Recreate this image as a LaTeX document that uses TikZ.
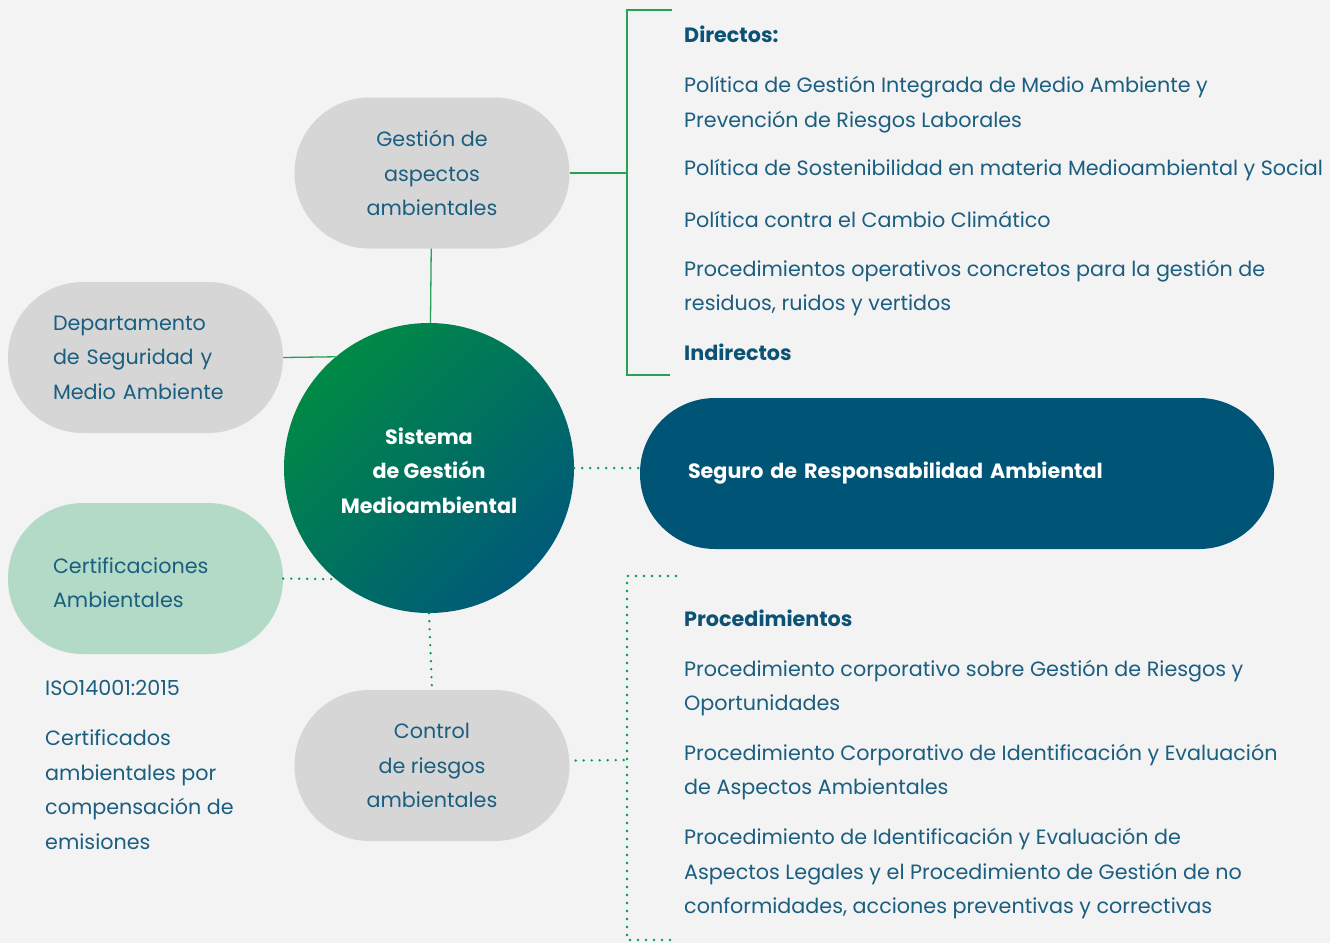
\documentclass[tikz,border=0pt]{standalone}
\usepackage{fontspec}
\setmainfont{Poppins}
\usepackage{xcolor}
\definecolor{bgGrey}{HTML}{F3F3F3}
\definecolor{pillGrey}{HTML}{D6D6D6}
\definecolor{pillMint}{HTML}{B3DAC7}
\definecolor{pillBlue}{HTML}{005577}
\definecolor{textBlue}{HTML}{1A5E80}
\definecolor{headBlue}{HTML}{0B5275}
\definecolor{lineGreen}{HTML}{27A058}
\definecolor{dotGreen}{HTML}{009A48}
\definecolor{circGreen}{HTML}{008A45}
\definecolor{circBlue}{HTML}{005A78}

\begin{document}
\begin{tikzpicture}[x=1pt, y=-1pt, node font=\fontsize{20.7}{34.5}\selectfont,
  pill/.style={rectangle, rounded corners=75pt, minimum width=275pt, minimum height=151pt, inner sep=0, fill=pillGrey, text=textBlue, align=center},
  info/.style={anchor=west, inner sep=0, align=left, text=textBlue},
  head/.style={info, text=headBlue, font=\bfseries},
  solid line/.style={draw=lineGreen, line width=1.3pt},
  dot line/.style={draw=dotGreen, line width=2.6pt, dash pattern=on 0pt off 8pt, line cap=round}]

\fill[bgGrey] (0,0) rectangle (1330,943);

\node[circle, minimum size=290pt, inner sep=0, top color=circGreen, bottom color=circBlue, shading angle=45, text=white, font=\bfseries, align=center] (circleSistema) at (429,468) {\rule{0pt}{22pt}Sistema\\de Gestión\\Medioambiental};

\node[pill] (pillGestion) at (432,173) {Gestión de\\aspectos\\ambientales};
\node[pill, text width=185pt, align=left] (pillDept) at (145.5,357.5) {Departamento\\de Seguridad y\\Medio Ambiente};
\node[pill, fill=pillMint, text width=185pt, align=left] (pillCert) at (145.5,578.5) {\rule{0pt}{24pt}Certificaciones\\Ambientales};
\node[pill] (pillControl) at (432,765.5) {Control\\de riesgos\\ambientales};
\node[pill, minimum width=634pt, fill=pillBlue, text=white, font=\bfseries, text width=538pt, align=left] (pillSeguro) at (957,473.5) {Seguro de Responsabilidad Ambiental};

\coordinate (topStart) at (672,10);
\coordinate (topCorner) at (627,10);
\coordinate (topBottom) at (627,375);
\coordinate (topEnd) at (670,375);
\coordinate (lowStart) at (676,576);
\coordinate (lowCorner) at (627,576);
\coordinate (lowBottom) at (627,940);
\coordinate (lowEnd) at (676,940);

\draw [solid line] (pillGestion) edge (circleSistema);
\draw [solid line] (pillDept.east) -- (circleSistema.130);
\draw [solid line] (pillGestion.east) -- (pillGestion.east -| topCorner);
\draw [solid line] (topStart) -- (topCorner) -- (topBottom) -- (topEnd);

\draw [dot line] (pillCert.east) -- (circleSistema.230);
\draw [dot line] (circleSistema.south) -- (pillControl.north);
\draw [dot line] (circleSistema.east) -- (circleSistema.east -| pillSeguro.west);
\draw [dot line] (pillControl.east) ++(6,-5) -- (lowCorner |- 0,760);
\draw [dot line] (lowStart) -- (lowCorner) -- (lowBottom) -- (lowEnd);

\node[head] (hDirectos) at (684,34) {Directos:};
\node[info] (tPolGestion) at (684,104.5) {Política de Gestión Integrada de Medio Ambiente y\\Prevención de Riesgos Laborales};
\node[info] (tPolSost) at (684,170.5) {Política de Sostenibilidad en materia Medioambiental y Social};
\node[info] (tPolClima) at (684,219) {Política contra el Cambio Climático};
\node[info] (tProcOper) at (684,288) {Procedimientos operativos concretos para la gestión de\\residuos, ruidos y vertidos};
\node[head] (hIndirectos) at (684,352) {Indirectos};

\node[head] (hProc) at (684,618) {Procedimientos};
\node[info] (tProcRiesgos) at (684,688) {Procedimiento corporativo sobre Gestión de Riesgos y\\Oportunidades};
\node[info] (tProcAspectos) at (684,772) {Procedimiento Corporativo de Identificación y Evaluación\\de Aspectos Ambientales};
\node[info] (tProcLegales) at (684,874) {Procedimiento de Identificación y Evaluación de\\Aspectos Legales y el Procedimiento de Gestión de no\\conformidades, acciones preventivas y correctivas};

\node[info] (tIso) at (45,688) {ISO14001:2015};
\node[info] (tCertif) at (45,789.5) {Certificados\\ambientales por\\compensación de\\emisiones};
\end{tikzpicture}
\end{document}
